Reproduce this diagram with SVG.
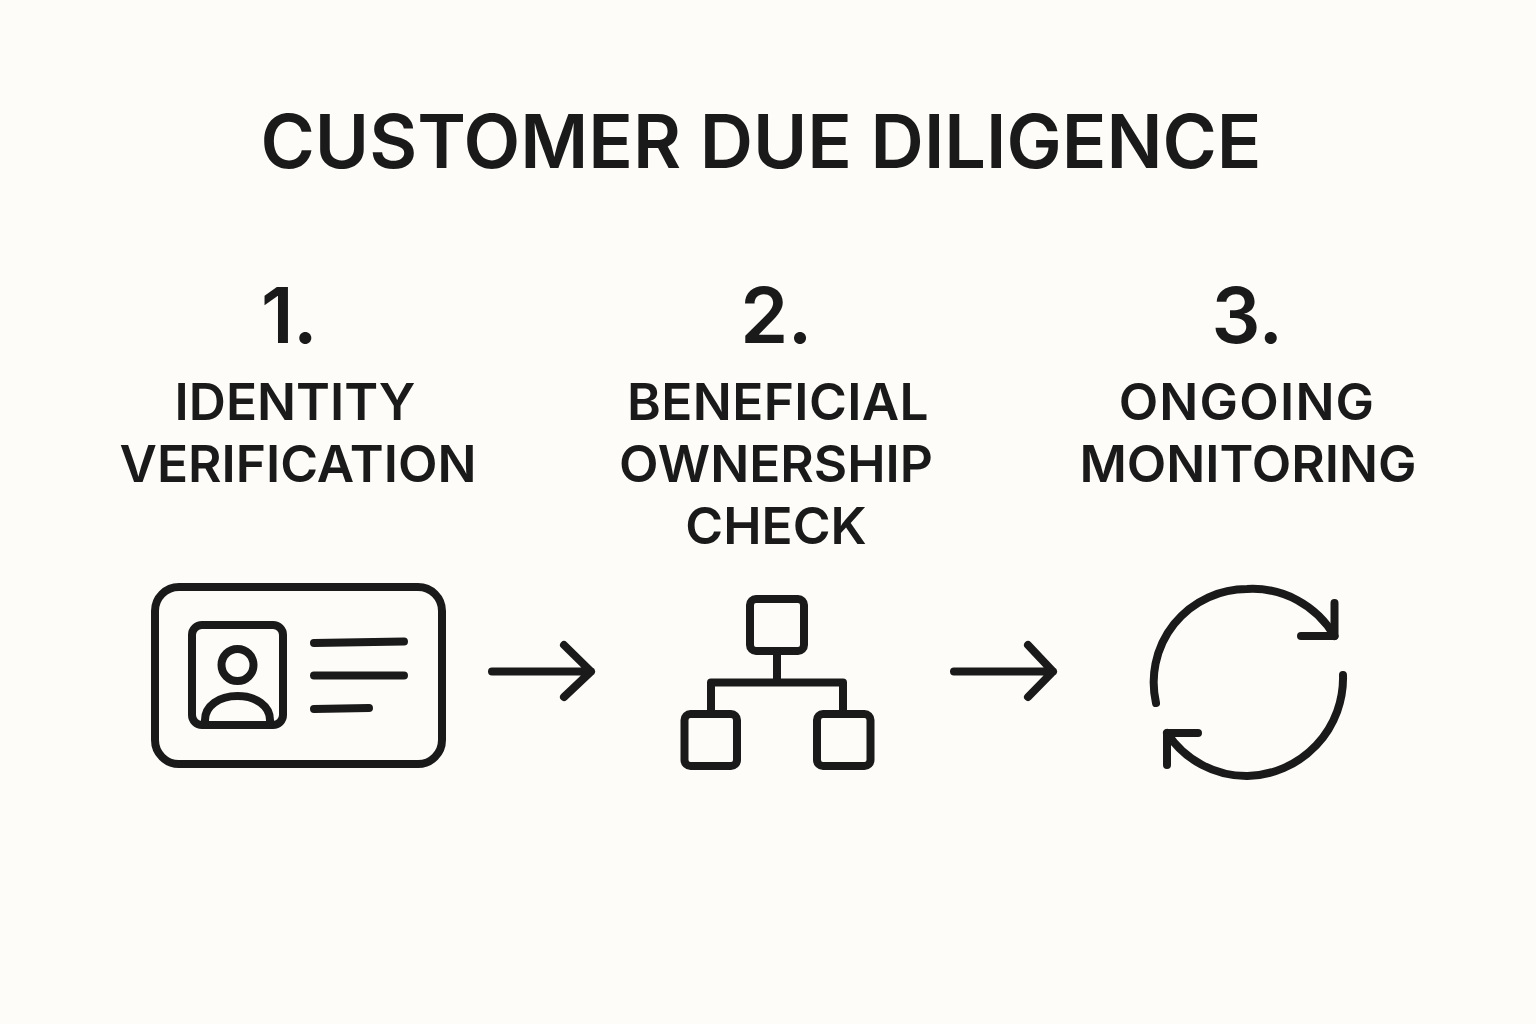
<svg xmlns="http://www.w3.org/2000/svg" width="1536" height="1024" viewBox="0 0 1536 1024">
<style>
text{font-family:Inter,"Liberation Sans",sans-serif;fill:#1a1a1b;text-anchor:middle}
.t{font-size:73.800px;font-weight:600}
.n{font-size:77px;font-weight:600;letter-spacing:-.5px}
.l{font-size:51.400px;font-weight:600}
.s{fill:none;stroke:#1a1a1b;stroke-width:8;stroke-linecap:round;stroke-linejoin:round}
</style>
<rect width="1536" height="1024" fill="#fdfcf8"/>
<text id="title" class="t" x="761" y="168">CUSTOMER DUE DILIGENCE</text>
<g id="step1">
<text class="n" x="289" y="343">1.</text>
<text class="l" x="295" y="420">IDENTITY</text>
<text class="l" x="298" y="482">VERIFICATION</text>
<rect class="s" x="155" y="587" width="287" height="177" rx="24"/>
<rect class="s" x="192" y="625" width="91" height="100" rx="10"/>
<circle class="s" cx="237.500" cy="665" r="16"/>
<path class="s" d="M205 724v-4c0-14 14-24 32.500-24s32.500 10 32.500 24v4"/>
<path class="s" d="M314 643L404 641.500M314 675.500H404M314 709L369 708"/>
</g>
<g id="step2">
<text class="n" x="776" y="343">2.</text>
<text class="l" x="778" y="420" style="letter-spacing:.4px">BENEFICIAL</text>
<text class="l" x="776" y="482">OWNERSHIP</text>
<text class="l" x="776" y="544">CHECK</text>
<rect class="s" x="750" y="599" width="54" height="52" rx="6"/>
<rect class="s" x="684.500" y="714" width="52.500" height="52" rx="6"/>
<rect class="s" x="817" y="714" width="53.500" height="52" rx="6"/>
<path class="s" d="M777 651V682.500M711 714V682.500H843V714"/>
</g>
<g id="step3">
<text class="n" x="1247" y="343">3.</text>
<text class="l" x="1247" y="420" style="letter-spacing:1.200px">ONGOING</text>
<text class="l" x="1248" y="482">MONITORING</text>
<path class="s" d="M1156 703A93.300 93.300 0 0 1 1247 589A95 95 0 0 1 1334.500 636"/>
<path class="s" d="M1334.500 603V636H1301"/>
<path class="s" d="M1343 675A98 98 0 0 1 1247.500 776A95 95 0 0 1 1167 733"/>
<path class="s" d="M1167 765V733H1198"/>
</g>
<g id="connectors">
<path class="s" d="M492 671.500H591M564 645L591 671.500L564 697"/>
<path class="s" d="M954 671.500H1053M1028 645L1053 671.500L1028 697"/>
</g>
</svg>
